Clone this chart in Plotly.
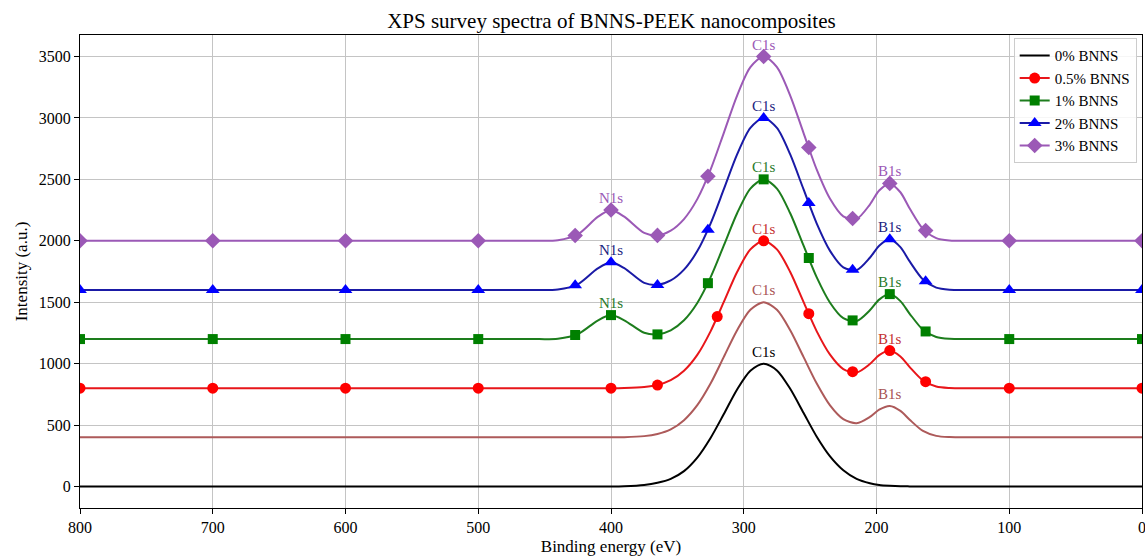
import plotly.graph_objects as go

# Binding energy grid (eV) used for the smooth curves
energy = [800, 700, 600, 500, 460, 440, 425, 410, 400, 390, 375, 365, 355, 345, 335,
          325, 315, 305, 295, 285, 275, 265, 255, 245, 235, 225, 215, 205, 198, 190,
          182, 175, 165, 155, 145, 130, 100, 0]

# Intensities (a.u.)
bnns_0 = [0, 0, 0, 0, 0, 0, 0, 0, 0, 2, 12, 30, 62, 125, 235, 395, 590, 790, 942, 1000,
          945, 795, 600, 405, 245, 132, 62, 27, 13, 6, 2, 1, 0, 0, 0, 0, 0, 0]
bnns_ref = [400, 400, 400, 400, 400, 400, 400, 400, 400, 401, 410, 428, 465, 540, 662,
            838, 1055, 1272, 1438, 1500, 1438, 1272, 1055, 838, 660, 548, 515, 566, 625,
            655, 615, 543, 452, 412, 402, 400, 400, 400]
bnns_05 = [800, 800, 800, 800, 800, 800, 800, 800, 800, 802, 810, 826, 865, 942, 1071,
           1263, 1503, 1746, 1930, 2000, 1930, 1746, 1503, 1263, 1073, 956, 928, 997,
           1069, 1106, 1058, 972, 863, 814, 802, 800, 800, 800]
bnns_1 = [1200, 1200, 1200, 1200, 1200, 1203, 1240, 1351, 1395, 1353, 1251, 1238, 1271,
          1353, 1494, 1702, 1962, 2224, 2425, 2500, 2425, 2224, 1962, 1702, 1496, 1370,
          1346, 1434, 1521, 1566, 1509, 1406, 1276, 1217, 1202, 1200, 1200, 1200]
bnns_2 = [1600, 1600, 1600, 1600, 1600, 1604, 1646, 1775, 1825, 1777, 1657, 1641, 1677,
          1765, 1916, 2140, 2420, 2703, 2919, 3000, 2919, 2703, 2420, 2140, 1918, 1784,
          1761, 1862, 1960, 2012, 1948, 1832, 1685, 1619, 1602, 1600, 1600, 1600]
bnns_3 = [2000, 2000, 2000, 2000, 2000, 2004, 2052, 2194, 2250, 2196, 2064, 2044, 2083,
          2177, 2339, 2579, 2879, 3182, 3413, 3500, 3413, 3182, 2879, 2579, 2342, 2199,
          2178, 2295, 2409, 2467, 2395, 2263, 2097, 2022, 2003, 2000, 2000, 2000]

# Marker positions
marker_energy_05 = [800, 700, 600, 500, 400, 365, 320, 285, 251, 218, 190, 163, 100, 0]
marker_05 = [800, 800, 800, 800, 800, 826, 1383, 2000, 1407, 935, 1106, 853, 800, 800]
marker_energy = [800, 700, 600, 500, 427, 400, 365, 327, 285, 251, 218, 190, 163, 100, 0]
marker_1 = [1200, 1200, 1200, 1200, 1233, 1395, 1238, 1655, 2500, 1860, 1352, 1566, 1262, 1200, 1200]
marker_2 = [1600, 1600, 1600, 1600, 1638, 1825, 1641, 2090, 3000, 2308, 1765, 2012, 1670, 1600, 1600]
marker_3 = [2000, 2000, 2000, 2000, 2043, 2250, 2044, 2525, 3500, 2759, 2182, 2467, 2083, 2000, 2000]

# Peak labels
peak_names = ["N1s", "C1s", "B1s"]
peak_energy = [400, 285, 190]

x_ticks = [800, 700, 600, 500, 400, 300, 200, 100, 0]
y_ticks = [0, 500, 1000, 1500, 2000, 2500, 3000, 3500]

FONT = "Liberation Serif, Times New Roman, serif"

series = [
    # name, y, line color, marker color, symbol, mx, my, size, label color, peaks, legend
    ("0% BNNS", bnns_0, "#000000", None, None, None, None, 0, "#000000", ["C1s"], True),
    ("ref", bnns_ref, "#ad5a5a", None, None, None, None, 0, "#a85454", ["C1s", "B1s"], False),
    ("0.5% BNNS", bnns_05, "#e8161a", "#ff0000", "circle", marker_energy_05, marker_05, 11, "#c43030", ["C1s", "B1s"], True),
    ("1% BNNS", bnns_1, "#1d7d1d", "#008000", "square", marker_energy, marker_1, 10, "#2a7a2a", ["N1s", "C1s", "B1s"], True),
    ("2% BNNS", bnns_2, "#1a1aa6", "#0000ff", "triangle-up", marker_energy, marker_2, 12, "#1c2380", ["N1s", "C1s", "B1s"], True),
    ("3% BNNS", bnns_3, "#9b59b6", "#9b59b6", "diamond", marker_energy, marker_3, 12, "#9b59b6", ["N1s", "C1s", "B1s"], True),
]

fig = go.Figure()
annotations = []

for name, ys, lc, mc, sym, mx, my, msize, labc, peaks, leg in series:
    fig.add_trace(go.Scatter(x=energy, y=ys, mode="lines", line=dict(color=lc, width=2, shape="spline", smoothing=0.8),
                             showlegend=False, hoverinfo="skip"))
    if mx is not None:
        fig.add_trace(go.Scatter(x=mx, y=my, mode="markers",
                                 marker=dict(color=mc, symbol=sym, size=msize, line=dict(width=0)),
                                 showlegend=False, hoverinfo="skip"))
    if leg:
        if mx is not None:
            fig.add_trace(go.Scatter(x=[None], y=[None], mode="lines+markers", name=name,
                                     line=dict(color=lc, width=2),
                                     marker=dict(color=mc, symbol=sym, size=msize)))
        else:
            fig.add_trace(go.Scatter(x=[None], y=[None], mode="lines", name=name,
                                     line=dict(color=lc, width=2)))
    for pk in peaks:
        e = peak_energy[peak_names.index(pk)]
        yv = ys[energy.index(e)]
        annotations.append(dict(x=e, y=yv, text=pk, showarrow=False, xref="x", yref="y",
                                yanchor="bottom", xanchor="center", yshift=2,
                                font=dict(family=FONT, size=15, color=labc)))

fig.update_layout(
    width=1145, height=556,
    margin=dict(l=80, r=3, t=35, b=48, autoexpand=False),
    paper_bgcolor="white", plot_bgcolor="white",
    font=dict(family=FONT, size=16, color="black"),
    title=dict(text="XPS survey spectra of BNNS-PEEK nanocomposites", x=0.534, xanchor="center",
               y=0.962, yanchor="middle", font=dict(family=FONT, size=21, color="black")),
    annotations=annotations,
    legend=dict(x=0.995, xanchor="right", y=0.993, yanchor="top",
                bgcolor="rgba(255,255,255,0.85)", bordercolor="#cccccc", borderwidth=1,
                font=dict(family=FONT, size=15, color="black"), tracegroupgap=0),
    showlegend=True,
)
fig.update_xaxes(range=[800, 0], tickvals=x_ticks, ticks="outside", ticklen=5, tickcolor="black",
                 showline=True, linecolor="black", linewidth=1.2, mirror=True,
                 showgrid=True, gridcolor="#c4c4c4", gridwidth=1, zeroline=False,
                 ticklabeloverflow="allow", automargin=False,
                 title=dict(text="Binding energy (eV)", font=dict(family=FONT, size=17), standoff=4),
                 tickfont=dict(family=FONT, size=16))
fig.update_yaxes(range=[-175, 3675], tickvals=y_ticks, ticks="outside", ticklen=5, tickcolor="black",
                 showline=True, linecolor="black", linewidth=1.2, mirror=True,
                 showgrid=True, gridcolor="#c4c4c4", gridwidth=1, zeroline=False,
                 automargin=False,
                 title=dict(text="Intensity (a.u.)", font=dict(family=FONT, size=17), standoff=6),
                 tickfont=dict(family=FONT, size=16))

fig.write_html("out.html")
